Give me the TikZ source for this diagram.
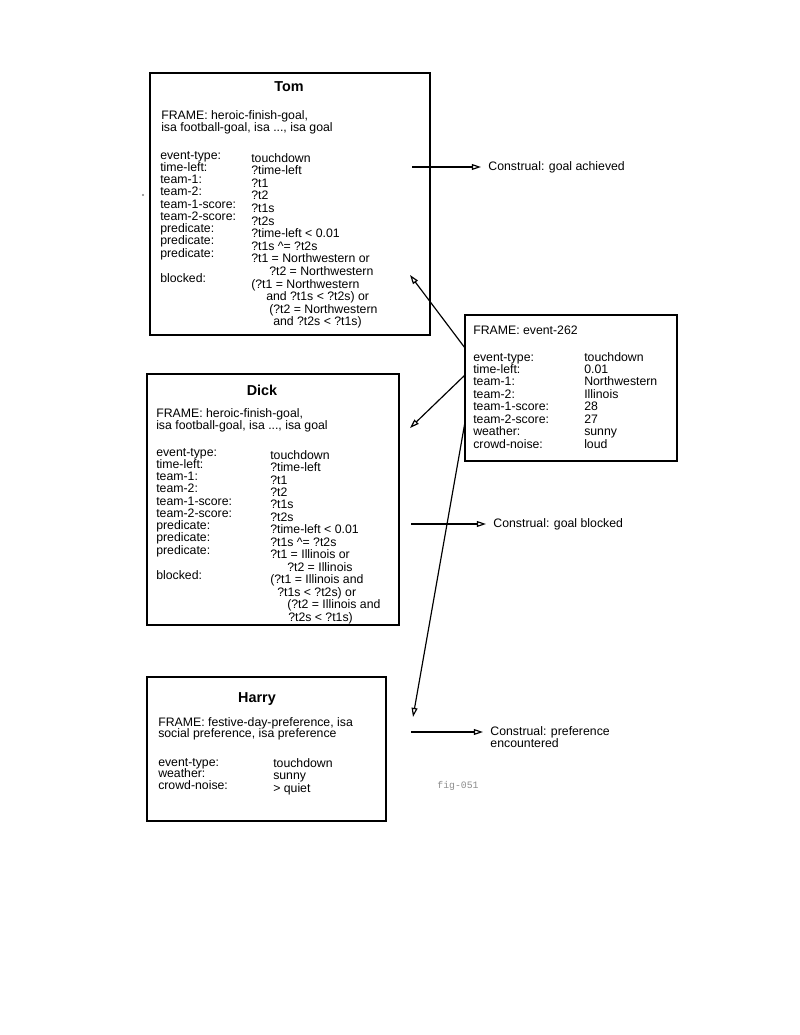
\documentclass[tikz,border=0pt]{standalone}
\usepackage{fontspec}
\setmainfont{Liberation Sans}
\setmonofont{Liberation Mono}
\usetikzlibrary{arrows.meta,fit}
\begin{document}
\begin{tikzpicture}[x=0.765pt,y=-0.765pt,
  box/.style={draw, line width=1.9pt, inner sep=0pt},
  txt/.style={anchor=base west, inner sep=0pt, font=\fontsize{9.4}{11}\selectfont},
  ttl/.style={anchor=base, inner sep=0pt, font=\fontsize{11}{13}\selectfont\bfseries},
  cons/.style={anchor=base west, inner xsep=5.5pt, inner ysep=0pt, font=\fontsize{9.4}{11}\selectfont},
  arr/.style={line width=0.9pt, -{Triangle[open, length=7pt, width=4.5pt]}},
]
\useasboundingbox (0,0) rectangle (800,1035);

% ---------- boxes ----------
\node[box, fit={(150,73) (430,335)}] (tom) {};
\node[box, fit={(147,374) (399,625)}] (dick) {};
\node[box, fit={(147,677) (386,821)}] (harry) {};
\node[box, fit={(465,315) (677,461)}] (ev) {};

% stray mark
\fill[gray] (143,195) circle (1.1);

% ---------- Tom ----------
\node[ttl] (tomT) at (289,91) {Tom};
\node[txt] (tomF1) at (161,119) {FRAME: heroic-finish-goal,};
\node[txt] (tomF2) at (161,131) {isa football-goal, isa ..., isa goal};
\foreach \y/\t [count=\i] in {159/{event-type:},171.25/{time-left:},183.5/{team-1:},195.75/{team-2:},208/{team-1-score:},220.25/{team-2-score:},232.5/{predicate:},244.75/{predicate:},257/{predicate:},282/{blocked:}}
  \node[txt] (tomL\i) at (160,\y) {\t};
\foreach \y/\x/\t [count=\i] in {162/251/{touchdown},174.6/251/{?time-left},187.2/251/{?t1},199.8/251/{?t2},212.4/251/{?t1s},225/251/{?t2s},237.6/251/{?time-left < 0.01},250.2/251/{?t1s \textasciicircum= ?t2s},262.8/251/{?t1 = Northwestern or},275.4/269/{?t2 = Northwestern},288/251/{(?t1 = Northwestern},300.6/266/{and ?t1s < ?t2s) or},313.2/269/{(?t2 = Northwestern},325.8/273/{and ?t2s < ?t1s)}}
  \node[txt] (tomV\i) at (\x,\y) {\t};

% ---------- Dick ----------
\node[ttl] (dickT) at (262,395) {Dick};
\node[txt] (dickF1) at (156,417) {FRAME: heroic-finish-goal,};
\node[txt] (dickF2) at (156,429) {isa football-goal, isa ..., isa goal};
\foreach \y/\t [count=\i] in {456/{event-type:},468.25/{time-left:},480.5/{team-1:},492.75/{team-2:},505/{team-1-score:},517.25/{team-2-score:},529.5/{predicate:},541.75/{predicate:},554/{predicate:},579/{blocked:}}
  \node[txt] (dickL\i) at (156,\y) {\t};
\foreach \y/\x/\t [count=\i] in {459/270/{touchdown},471.5/270/{?time-left},484/270/{?t1},496.4/270/{?t2},508.8/270/{?t1s},521.3/270/{?t2s},533.8/270/{?time-left < 0.01},546.2/270/{?t1s \textasciicircum= ?t2s},558.7/270/{?t1 = Illinois or},571.1/287/{?t2 = Illinois},583.6/270/{(?t1 = Illinois and},596/277/{?t1s < ?t2s) or},608.5/287/{(?t2 = Illinois and},621/288/{?t2s < ?t1s)}}
  \node[txt] (dickV\i) at (\x,\y) {\t};

% ---------- Harry ----------
\node[ttl] (harryT) at (257,702) {Harry};
\node[txt] (harryF1) at (158,726) {FRAME: festive-day-preference, isa};
\node[txt] (harryF2) at (158,737.5) {social preference, isa preference};
\node[txt] (harryL1) at (158,766) {event-type:};
\node[txt] (harryL2) at (158,777.5) {weather:};
\node[txt] (harryL3) at (158,789) {crowd-noise:};
\node[txt] (harryV1) at (273,767) {touchdown};
\node[txt] (harryV2) at (273,779.5) {sunny};
\node[txt] (harryV3) at (273,792) {> quiet};

% ---------- event-262 ----------
\node[txt] (evF) at (473,334) {FRAME: event-262};
\foreach \y/\a/\b [count=\i] in {361/{event-type:}/{touchdown},373.4/{time-left:}/{0.01},385.9/{team-1:}/{Northwestern},398.3/{team-2:}/{Illinois},410.7/{team-1-score:}/{28},423.1/{team-2-score:}/{27},435.6/{weather:}/{sunny},448/{crowd-noise:}/{loud}}
  {\node[txt] (evL\i) at (473,\y) {\a};
   \node[txt] (evV\i) at (584,\y) {\b};}

% ---------- construals ----------
\node[cons] (caT) at (481,170.5) {Construal: goal achieved};
\node[cons] (caD) at (486,527.5) {Construal: goal blocked};
\node[cons] (caH1) at (483,735) {Construal: preference};
\node[cons] (caH2) at (483,747) {encountered};

\node[inner sep=0pt, font=\fontsize{7.5}{9}\selectfont\ttfamily, text=black!45] (fig) at (458,786) {fig-051};

% ---------- connectors ----------
\coordinate (tomOut) at (412,167);
\coordinate (dickOut) at (411,524);
\coordinate (harryOut) at (411,732);
\coordinate (evA) at (465,348);
\coordinate (evB) at (465,375);
\coordinate (evC) at (465,422);
\coordinate (tomIn) at (410,275);
\coordinate (dickIn) at (410,428);
\coordinate (harryIn) at (413,717);

\draw[arr] (tomOut) -- (tomOut -| caT.west);
\draw[arr] (dickOut) -- (dickOut -| caD.west);
\draw[arr] (harryOut) -- (harryOut -| caH1.west);
\draw[arr] (evA) -- (tomIn);
\draw[arr] (evB) -- (dickIn);
\draw[arr] (evC) -- (harryIn);
\end{tikzpicture}
\end{document}
